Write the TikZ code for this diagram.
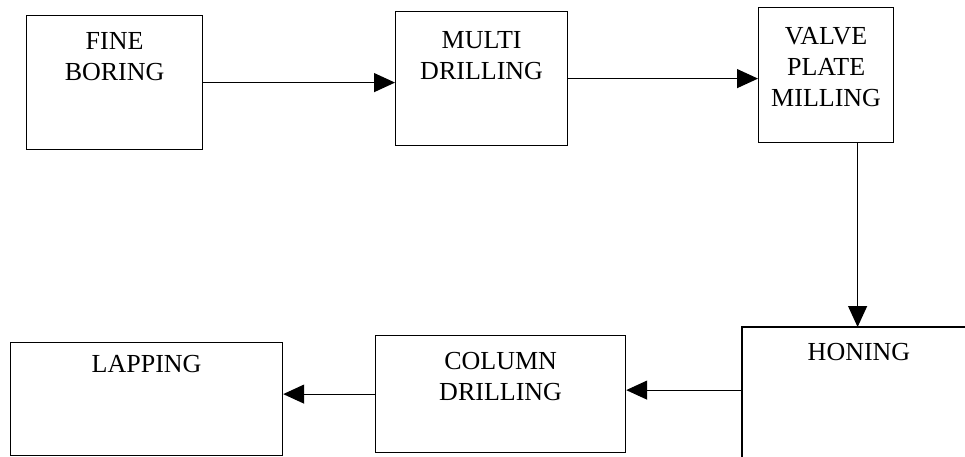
\documentclass[tikz,border=0pt]{standalone}
\usepackage{fontspec}
\setmainfont{Liberation Serif}
\usetikzlibrary{arrows.meta}
\begin{document}
\begin{tikzpicture}[x=1pt,y=-1pt,
  box/.style={draw, line width=1.2pt, inner sep=0pt, anchor=north west},
  lbl/.style={font=\fontsize{26}{31}\selectfont, align=center, inner sep=0pt, anchor=north},
  flow/.style={line width=1.2pt, -{Triangle[length=21pt,width=19pt]}}]
\useasboundingbox[fill=white] (0,0) rectangle (965,457);
% top row
\node[box, minimum width=176pt, minimum height=134pt] (fine) at (26,15) {};
\node[box, minimum width=172pt, minimum height=134pt] (multi) at (395,11) {};
\node[box, minimum width=135pt, minimum height=135pt] (valve) at (758,7) {};
% bottom row
\node[inner sep=0pt, minimum width=240pt, minimum height=140pt, anchor=north west] (honing) at (742,327) {};
\draw[line width=1.2pt] (honing.north east) -- (honing.north west) -- (honing.south west);
\node[box, minimum width=250pt, minimum height=117pt] (column) at (375,335) {};
\node[box, minimum width=272pt, minimum height=113pt] (lapping) at (10,342) {};
% labels
\node[lbl] (fineT) at ([yshift=-17pt]fine.north) {FINE\\BORING};
\node[lbl] (multiT) at ([yshift=-20pt]multi.north) {MULTI\\DRILLING};
\node[lbl] (valveT) at ([yshift=-20pt]valve.north) {VALVE\\PLATE\\MILLING};
\node[lbl] (honingT) at (859,343) {HONING};
\node[lbl] (columnT) at ([yshift=-17pt]column.north) {COLUMN\\DRILLING};
\node[lbl] (lappingT) at ([yshift=-13pt]lapping.north) {LAPPING};
% connectors
\draw[flow] (fine.east) -- (fine.east -| multi.west);
\draw[flow] (multi.east) -- (multi.east -| valve.west);
\draw[flow] ([xshift=31.5pt]valve.south) -- ([xshift=31.5pt]valve.south |- honing.north);
\draw[flow] ([yshift=4pt]column.east -| honing.west) -- ([yshift=4pt]column.east);
\draw[flow] (column.west) -- (column.west -| lapping.east);
\end{tikzpicture}
\end{document}
